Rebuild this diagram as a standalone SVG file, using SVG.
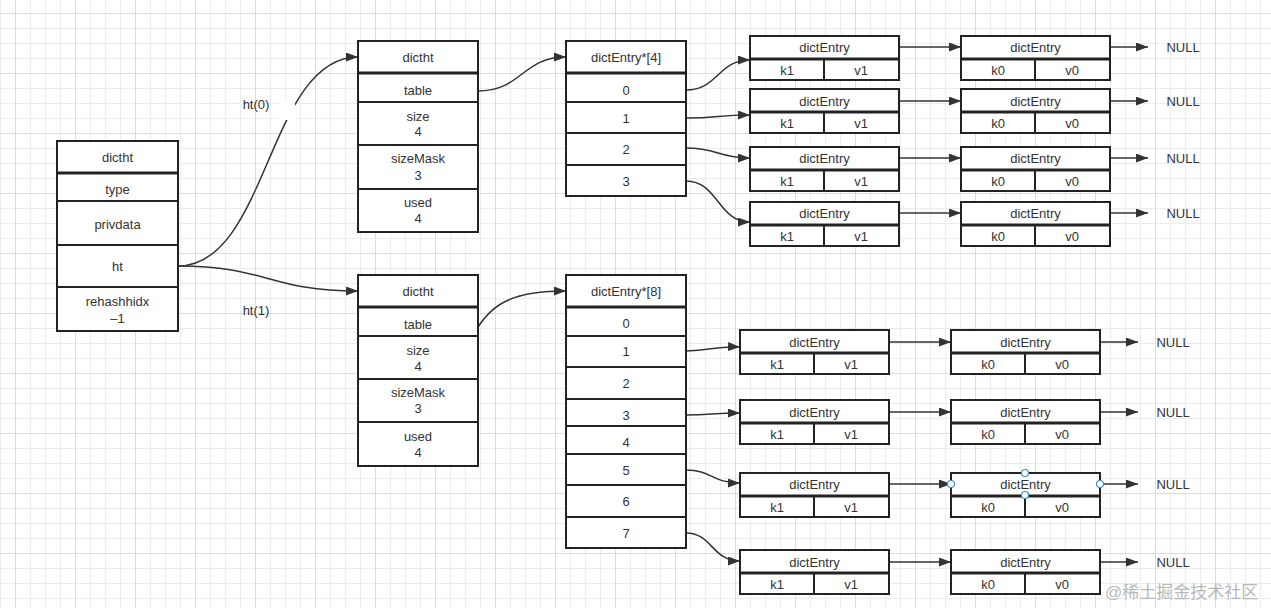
<svg xmlns="http://www.w3.org/2000/svg" width="1271" height="608" viewBox="0 0 1271 608">
<defs>
<pattern id="grid" x="15" y="13" width="60" height="60" patternUnits="userSpaceOnUse">
<rect x="0" y="0" width="60" height="60" fill="#ffffff"/>
<rect x="15" y="0" width="1" height="60" fill="#ececec"/>
<rect x="30" y="0" width="1" height="60" fill="#ececec"/>
<rect x="45" y="0" width="1" height="60" fill="#ececec"/>
<rect x="0" y="15" width="60" height="1" fill="#ececec"/>
<rect x="0" y="30" width="60" height="1" fill="#ececec"/>
<rect x="0" y="45" width="60" height="1" fill="#ececec"/>
<rect x="0" y="0" width="1" height="60" fill="#dcdcdc"/>
<rect x="0" y="0" width="60" height="1" fill="#dcdcdc"/>
</pattern>
<marker id="arr" viewBox="0 0 12 9" refX="12" refY="4.5" markerWidth="12" markerHeight="9" markerUnits="userSpaceOnUse" orient="auto">
<path d="M0,0 L12,4.5 L0,9 z" fill="#333333"/>
</marker>
</defs>
<style>
.box{fill:#ffffff;stroke:#222222;stroke-width:2}
.sep{stroke:#222222;stroke-width:2}
.hsep{stroke:#222222;stroke-width:3}
text{font-family:"Liberation Sans",Arial,sans-serif;font-size:13px;fill:#333333;text-anchor:middle;dominant-baseline:central}
.lbl{font-size:13px}
.con{fill:none;stroke:#333333;stroke-width:1.5;marker-end:url(#arr)}
.handle{fill:#ffffff;stroke:#3d8fd1;stroke-width:1.2}
.wm{font-family:"Liberation Sans","Noto Sans CJK SC",sans-serif;font-size:17px;fill:#b8b8b8;text-anchor:start}
</style>
<rect x="0" y="0" width="1271" height="608" fill="url(#grid)"/>

<g id="connectors">
<path class="con" d="M178,266 C268,266 268,57 358,57"/>
<rect x="279" y="100" width="16" height="20" fill="#ffffff"/>
<path class="con" d="M178,266 C268,266 268,291 358,291"/>
<path class="con" d="M478,91 C522,91 522,57 566,57"/>
<path class="con" d="M473,336 C490,302 515,291 566,291"/>
<path class="con" d="M686,90 C718,90 718,60 750,60"/>
<path class="con" d="M686,118 C718,118 718,115 750,115"/>
<path class="con" d="M686,148 C718,148 718,158 750,158"/>
<path class="con" d="M686,181 C718,181 718,222 750,222"/>
<path class="con" d="M686,351 C712,351 712,346 740,347"/>
<path class="con" d="M686,415 C712,415 712,413 740,413"/>
<path class="con" d="M686,470 C712,470 712,483 740,483"/>
<path class="con" d="M686,533 C712,533 712,561 740,561"/>
<path class="con" d="M899,47 L961,47"/>
<path class="con" d="M899,101 L961,101"/>
<path class="con" d="M899,158 L961,158"/>
<path class="con" d="M899,213 L961,213"/>
<path class="con" d="M1110,47 L1148,47"/>
<path class="con" d="M1110,101 L1148,101"/>
<path class="con" d="M1110,158 L1148,158"/>
<path class="con" d="M1110,213 L1148,213"/>
<path class="con" d="M889,342 L951,342"/>
<path class="con" d="M889,412 L951,412"/>
<path class="con" d="M889,484 L951,484"/>
<path class="con" d="M889,562 L951,562"/>
<path class="con" d="M1100,342 L1138,342"/>
<path class="con" d="M1100,412 L1138,412"/>
<path class="con" d="M1100,484 L1138,484"/>
<path class="con" d="M1100,562 L1138,562"/>
</g>

<g id="labels">
<text x="256" y="104">ht(0)</text>
<text x="256" y="310">ht(1)</text>
</g>

<g id="dict">
<rect class="box" x="57" y="141" width="121" height="190"/>
<line class="hsep" x1="57" y1="173" x2="178" y2="173"/>
<line class="sep" x1="57" y1="201" x2="178" y2="201"/>
<line class="sep" x1="57" y1="245" x2="178" y2="245"/>
<line class="sep" x1="57" y1="287" x2="178" y2="287"/>
<text x="117.5" y="157">dictht</text>
<text x="117.5" y="189">type</text>
<text x="117.5" y="224">privdata</text>
<text x="117.5" y="266">ht</text>
<text x="117.5" y="301">rehashhidx</text>
<text x="117.5" y="318">–1</text>
</g>

<g id="ht0">
<rect class="box" x="358" y="41" width="120" height="191"/>
<line class="hsep" x1="358" y1="73" x2="478" y2="73"/>
<line class="sep" x1="358" y1="102" x2="478" y2="102"/>
<line class="sep" x1="358" y1="145" x2="478" y2="145"/>
<line class="sep" x1="358" y1="189" x2="478" y2="189"/>
<text x="418" y="57">dictht</text>
<text x="418" y="90">table</text>
<text x="418" y="116">size</text>
<text x="418" y="131">4</text>
<text x="418" y="158">sizeMask</text>
<text x="418" y="175">3</text>
<text x="418" y="202">used</text>
<text x="418" y="218">4</text>
</g>

<g id="ht1">
<rect class="box" x="358" y="275" width="120" height="191"/>
<line class="hsep" x1="358" y1="307" x2="478" y2="307"/>
<line class="sep" x1="358" y1="336" x2="478" y2="336"/>
<line class="sep" x1="358" y1="379" x2="478" y2="379"/>
<line class="sep" x1="358" y1="422" x2="478" y2="422"/>
<text x="418" y="291">dictht</text>
<text x="418" y="324">table</text>
<text x="418" y="350">size</text>
<text x="418" y="366">4</text>
<text x="418" y="392">sizeMask</text>
<text x="418" y="408">3</text>
<text x="418" y="436">used</text>
<text x="418" y="452">4</text>
</g>

<g id="table4">
<rect class="box" x="566" y="41" width="120" height="155"/>
<line class="hsep" x1="566" y1="73" x2="686" y2="73"/>
<line class="sep" x1="566" y1="102" x2="686" y2="102"/>
<line class="sep" x1="566" y1="133" x2="686" y2="133"/>
<line class="sep" x1="566" y1="165" x2="686" y2="165"/>
<text x="626" y="57">dictEntry*[4]</text>
<text x="626" y="90">0</text>
<text x="626" y="118">1</text>
<text x="626" y="149">2</text>
<text x="626" y="181">3</text>
</g>

<g id="table8">
<rect class="box" x="566" y="275" width="120" height="273"/>
<line class="hsep" x1="566" y1="307" x2="686" y2="307"/>
<line class="sep" x1="566" y1="336" x2="686" y2="336"/>
<line class="sep" x1="566" y1="367" x2="686" y2="367"/>
<line class="sep" x1="566" y1="399" x2="686" y2="399"/>
<line class="sep" x1="566" y1="426" x2="686" y2="426"/>
<line class="sep" x1="566" y1="454" x2="686" y2="454"/>
<line class="sep" x1="566" y1="485" x2="686" y2="485"/>
<line class="sep" x1="566" y1="517" x2="686" y2="517"/>
<text x="626" y="291">dictEntry*[8]</text>
<text x="626" y="323">0</text>
<text x="626" y="351">1</text>
<text x="626" y="383">2</text>
<text x="626" y="415">3</text>
<text x="626" y="442">4</text>
<text x="626" y="470">5</text>
<text x="626" y="501">6</text>
<text x="626" y="533">7</text>
</g>

<g id="e4-0a"><rect class="box" x="750" y="36" width="149" height="44"/><line class="hsep" x1="750" y1="59" x2="899" y2="59"/><line class="sep" x1="824" y1="59" x2="824" y2="80"/><text x="824.5" y="47">dictEntry</text><text x="787" y="70">k1</text><text x="861" y="70">v1</text></g>
<g id="e4-1a"><rect class="box" x="750" y="89" width="149" height="44"/><line class="hsep" x1="750" y1="112" x2="899" y2="112"/><line class="sep" x1="824" y1="112" x2="824" y2="133"/><text x="824.5" y="101">dictEntry</text><text x="787" y="123">k1</text><text x="861" y="123">v1</text></g>
<g id="e4-2a"><rect class="box" x="750" y="147" width="149" height="44"/><line class="hsep" x1="750" y1="170" x2="899" y2="170"/><line class="sep" x1="824" y1="170" x2="824" y2="191"/><text x="824.5" y="158">dictEntry</text><text x="787" y="181">k1</text><text x="861" y="181">v1</text></g>
<g id="e4-3a"><rect class="box" x="750" y="202" width="149" height="44"/><line class="hsep" x1="750" y1="225" x2="899" y2="225"/><line class="sep" x1="824" y1="225" x2="824" y2="246"/><text x="824.5" y="213">dictEntry</text><text x="787" y="236">k1</text><text x="861" y="236">v1</text></g>

<g id="e4-0b"><rect class="box" x="961" y="36" width="149" height="44"/><line class="hsep" x1="961" y1="59" x2="1110" y2="59"/><line class="sep" x1="1035" y1="59" x2="1035" y2="80"/><text x="1035.5" y="47">dictEntry</text><text x="998" y="70">k0</text><text x="1072" y="70">v0</text></g>
<g id="e4-1b"><rect class="box" x="961" y="89" width="149" height="44"/><line class="hsep" x1="961" y1="112" x2="1110" y2="112"/><line class="sep" x1="1035" y1="112" x2="1035" y2="133"/><text x="1035.5" y="101">dictEntry</text><text x="998" y="123">k0</text><text x="1072" y="123">v0</text></g>
<g id="e4-2b"><rect class="box" x="961" y="147" width="149" height="44"/><line class="hsep" x1="961" y1="170" x2="1110" y2="170"/><line class="sep" x1="1035" y1="170" x2="1035" y2="191"/><text x="1035.5" y="158">dictEntry</text><text x="998" y="181">k0</text><text x="1072" y="181">v0</text></g>
<g id="e4-3b"><rect class="box" x="961" y="202" width="149" height="44"/><line class="hsep" x1="961" y1="225" x2="1110" y2="225"/><line class="sep" x1="1035" y1="225" x2="1035" y2="246"/><text x="1035.5" y="213">dictEntry</text><text x="998" y="236">k0</text><text x="1072" y="236">v0</text></g>

<g id="e8-1a"><rect class="box" x="740" y="330" width="149" height="44"/><line class="hsep" x1="740" y1="353" x2="889" y2="353"/><line class="sep" x1="814" y1="353" x2="814" y2="374"/><text x="814.5" y="342">dictEntry</text><text x="777" y="364">k1</text><text x="851" y="364">v1</text></g>
<g id="e8-3a"><rect class="box" x="740" y="400" width="149" height="44"/><line class="hsep" x1="740" y1="423" x2="889" y2="423"/><line class="sep" x1="814" y1="423" x2="814" y2="444"/><text x="814.5" y="412">dictEntry</text><text x="777" y="434">k1</text><text x="851" y="434">v1</text></g>
<g id="e8-5a"><rect class="box" x="740" y="473" width="149" height="44"/><line class="hsep" x1="740" y1="496" x2="889" y2="496"/><line class="sep" x1="814" y1="496" x2="814" y2="517"/><text x="814.5" y="484">dictEntry</text><text x="777" y="507">k1</text><text x="851" y="507">v1</text></g>
<g id="e8-7a"><rect class="box" x="740" y="550" width="149" height="44"/><line class="hsep" x1="740" y1="573" x2="889" y2="573"/><line class="sep" x1="814" y1="573" x2="814" y2="594"/><text x="814.5" y="562">dictEntry</text><text x="777" y="584">k1</text><text x="851" y="584">v1</text></g>

<g id="e8-1b"><rect class="box" x="951" y="330" width="149" height="44"/><line class="hsep" x1="951" y1="353" x2="1100" y2="353"/><line class="sep" x1="1025" y1="353" x2="1025" y2="374"/><text x="1025.5" y="342">dictEntry</text><text x="988" y="364">k0</text><text x="1062" y="364">v0</text></g>
<g id="e8-3b"><rect class="box" x="951" y="400" width="149" height="44"/><line class="hsep" x1="951" y1="423" x2="1100" y2="423"/><line class="sep" x1="1025" y1="423" x2="1025" y2="444"/><text x="1025.5" y="412">dictEntry</text><text x="988" y="434">k0</text><text x="1062" y="434">v0</text></g>
<g id="e8-5b"><rect class="box" x="951" y="473" width="149" height="44"/><line class="hsep" x1="951" y1="496" x2="1100" y2="496"/><line class="sep" x1="1025" y1="496" x2="1025" y2="517"/><text x="1025.5" y="484">dictEntry</text><text x="988" y="507">k0</text><text x="1062" y="507">v0</text>
<circle class="handle" cx="951" cy="484" r="3.5"/><circle class="handle" cx="1100" cy="484" r="3.5"/><circle class="handle" cx="1025" cy="473" r="3.5"/><circle class="handle" cx="1025" cy="495" r="3.5"/></g>
<g id="e8-7b"><rect class="box" x="951" y="550" width="149" height="44"/><line class="hsep" x1="951" y1="573" x2="1100" y2="573"/><line class="sep" x1="1025" y1="573" x2="1025" y2="594"/><text x="1025.5" y="562">dictEntry</text><text x="988" y="584">k0</text><text x="1062" y="584">v0</text></g>

<g id="nulls">
<text x="1183" y="47">NULL</text>
<text x="1183" y="101">NULL</text>
<text x="1183" y="158">NULL</text>
<text x="1183" y="213">NULL</text>
<text x="1173" y="342">NULL</text>
<text x="1173" y="412">NULL</text>
<text x="1173" y="484">NULL</text>
<text x="1173" y="562">NULL</text>
</g>

<text class="wm" x="1105" y="592">@稀土掘金技术社区</text>
</svg>
